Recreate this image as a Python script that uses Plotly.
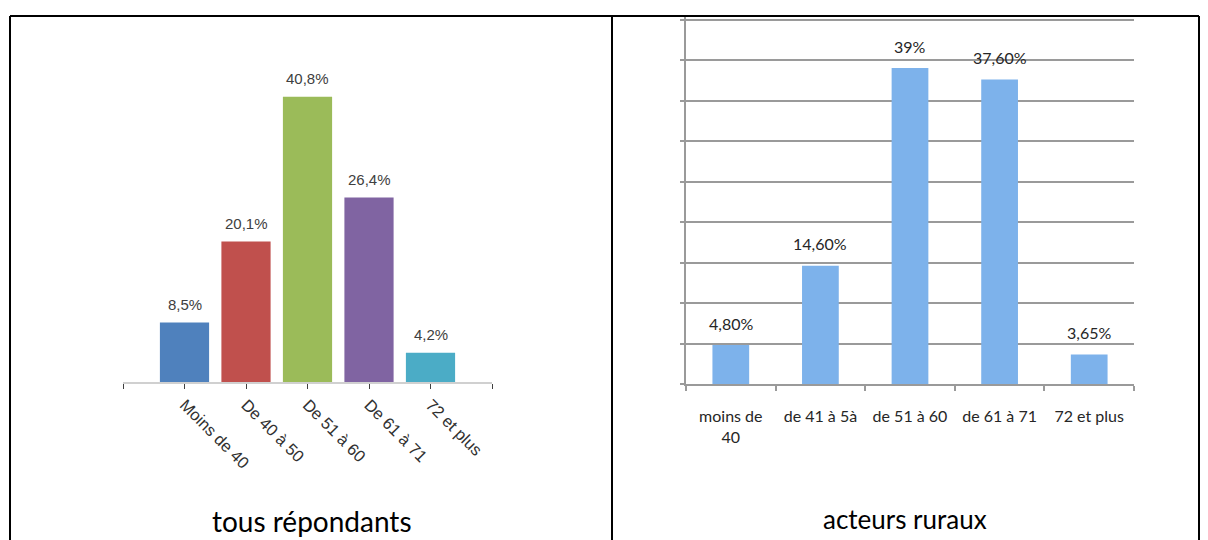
import plotly.graph_objects as go

# ---- data ----
left_categories = ["Moins de 40", "De 40 à 50", "De 51 à 60", "De 61 à 71", "72 et plus"]
left_values = [8.5, 20.1, 40.8, 26.4, 4.2]
left_labels = ["8,5%", "20,1%", "40,8%", "26,4%", "4,2%"]
left_colors = ["#4F81BD", "#C0504D", "#9BBB59", "#8064A2", "#4BACC6"]

right_categories = ["moins de<br>40", "de 41 à 5à", "de 51 à 60", "de 61 à 71", "72 et plus"]
right_values = [4.8, 14.6, 39.0, 37.6, 3.65]
right_labels = ["4,80%", "14,60%", "39%", "37,60%", "3,65%"]

left_title = "tous répondants"
right_title = "acteurs ruraux"

W, H = 1208, 540
def px_x(p):
    return p / W
def px_y(p):
    return (H - p) / H

fig = go.Figure()

# left chart
left_x = list(range(len(left_categories)))
fig.add_trace(go.Bar(
    x=left_x, y=left_values, width=0.8,
    marker=dict(color=left_colors, line=dict(width=0)),
    xaxis="x", yaxis="y", showlegend=False, hoverinfo="skip"))

# right chart
fig.add_trace(go.Bar(
    x=right_categories, y=right_values, width=0.41,
    marker=dict(color="#7DB2EB", line=dict(width=0)),
    xaxis="x2", yaxis="y2", showlegend=False, hoverinfo="skip"))

annotations = []
for xi, v, t in zip(left_x, left_values, left_labels):
    annotations.append(dict(x=xi, y=v, xref="x", yref="y", text=t, showarrow=False,
                            yanchor="middle", yshift=18,
                            font=dict(family="Liberation Sans, Arial", size=15, color="#404040")))
for c, v, t in zip(right_categories, right_values, right_labels):
    annotations.append(dict(x=c, y=v, xref="x2", yref="y2", text=t, showarrow=False,
                            yanchor="middle", yshift=22,
                            font=dict(family="Lato", size=16, color="#262626")))

annotations.append(dict(x=px_x(312), y=px_y(521), xref="paper", yref="paper", text=left_title,
                        showarrow=False, xanchor="center", yanchor="middle",
                        font=dict(family="Lato", size=28, color="#000000")))
annotations.append(dict(x=px_x(905), y=px_y(519), xref="paper", yref="paper", text=right_title,
                        showarrow=False, xanchor="center", yanchor="middle",
                        font=dict(family="Lato", size=26, color="#000000")))

shapes = [
    dict(type="line", xref="paper", yref="paper", x0=px_x(10), x1=px_x(1199), y0=px_y(16), y1=px_y(16),
         line=dict(color="#000000", width=2)),
    dict(type="line", xref="paper", yref="paper", x0=px_x(10), x1=px_x(10), y0=px_y(16), y1=0,
         line=dict(color="#000000", width=2)),
    dict(type="line", xref="paper", yref="paper", x0=px_x(612), x1=px_x(612), y0=px_y(16), y1=0,
         line=dict(color="#000000", width=2)),
    dict(type="line", xref="paper", yref="paper", x0=px_x(1199), x1=px_x(1199), y0=px_y(16), y1=0,
         line=dict(color="#000000", width=2)),
]

fig.update_layout(
    width=W, height=H,
    margin=dict(l=0, r=0, t=0, b=0),
    paper_bgcolor="#FFFFFF", plot_bgcolor="rgba(0,0,0,0)",
    annotations=annotations, shapes=shapes,
    xaxis=dict(domain=[px_x(123), px_x(492)], range=[-1, 5],
               tickvals=[-1] + left_x + [5], ticktext=[""] + left_categories + [""],
               tickangle=45, ticks="outside", ticklen=5, tickcolor="#404040", tickwidth=1,
               showline=True, linecolor="#D0D0D0", linewidth=1.5,
               showgrid=False, zeroline=False,
               tickfont=dict(family="Liberation Sans, Arial", size=16.5, color="#303030"),
               anchor="y", fixedrange=True),
    yaxis=dict(domain=[px_y(382), px_y(382 - 45 * 6.99)], range=[0, 45], visible=False,
               anchor="x", fixedrange=True),
    xaxis2=dict(domain=[px_x(686), px_x(1134)], type="category", tickson="boundaries",
                ticks="outside", ticklen=5, tickcolor="#9A9A9A", tickwidth=1.5,
                showline=True, linecolor="#9A9A9A", linewidth=1.5,
                showgrid=False, zeroline=False, ticklabelstandoff=17,
                tickfont=dict(family="Lato", size=16, color="#262626"),
                anchor="y2", fixedrange=True),
    yaxis2=dict(domain=[px_y(384), px_y(384 - 45.5 * 8.1)], range=[0, 45.5], dtick=5,
                showgrid=True, gridcolor="#9A9A9A", gridwidth=1.5,
                showline=True, linecolor="#9A9A9A", linewidth=1.5,
                ticks="outside", ticklen=4, tickcolor="#9A9A9A", tickwidth=1.5,
                showticklabels=False, zeroline=False,
                anchor="x2", fixedrange=True),
)

fig.write_html("out.html", config={"displayModeBar": False},
               post_script="document.body.style.margin='0';document.documentElement.style.margin='0';")
